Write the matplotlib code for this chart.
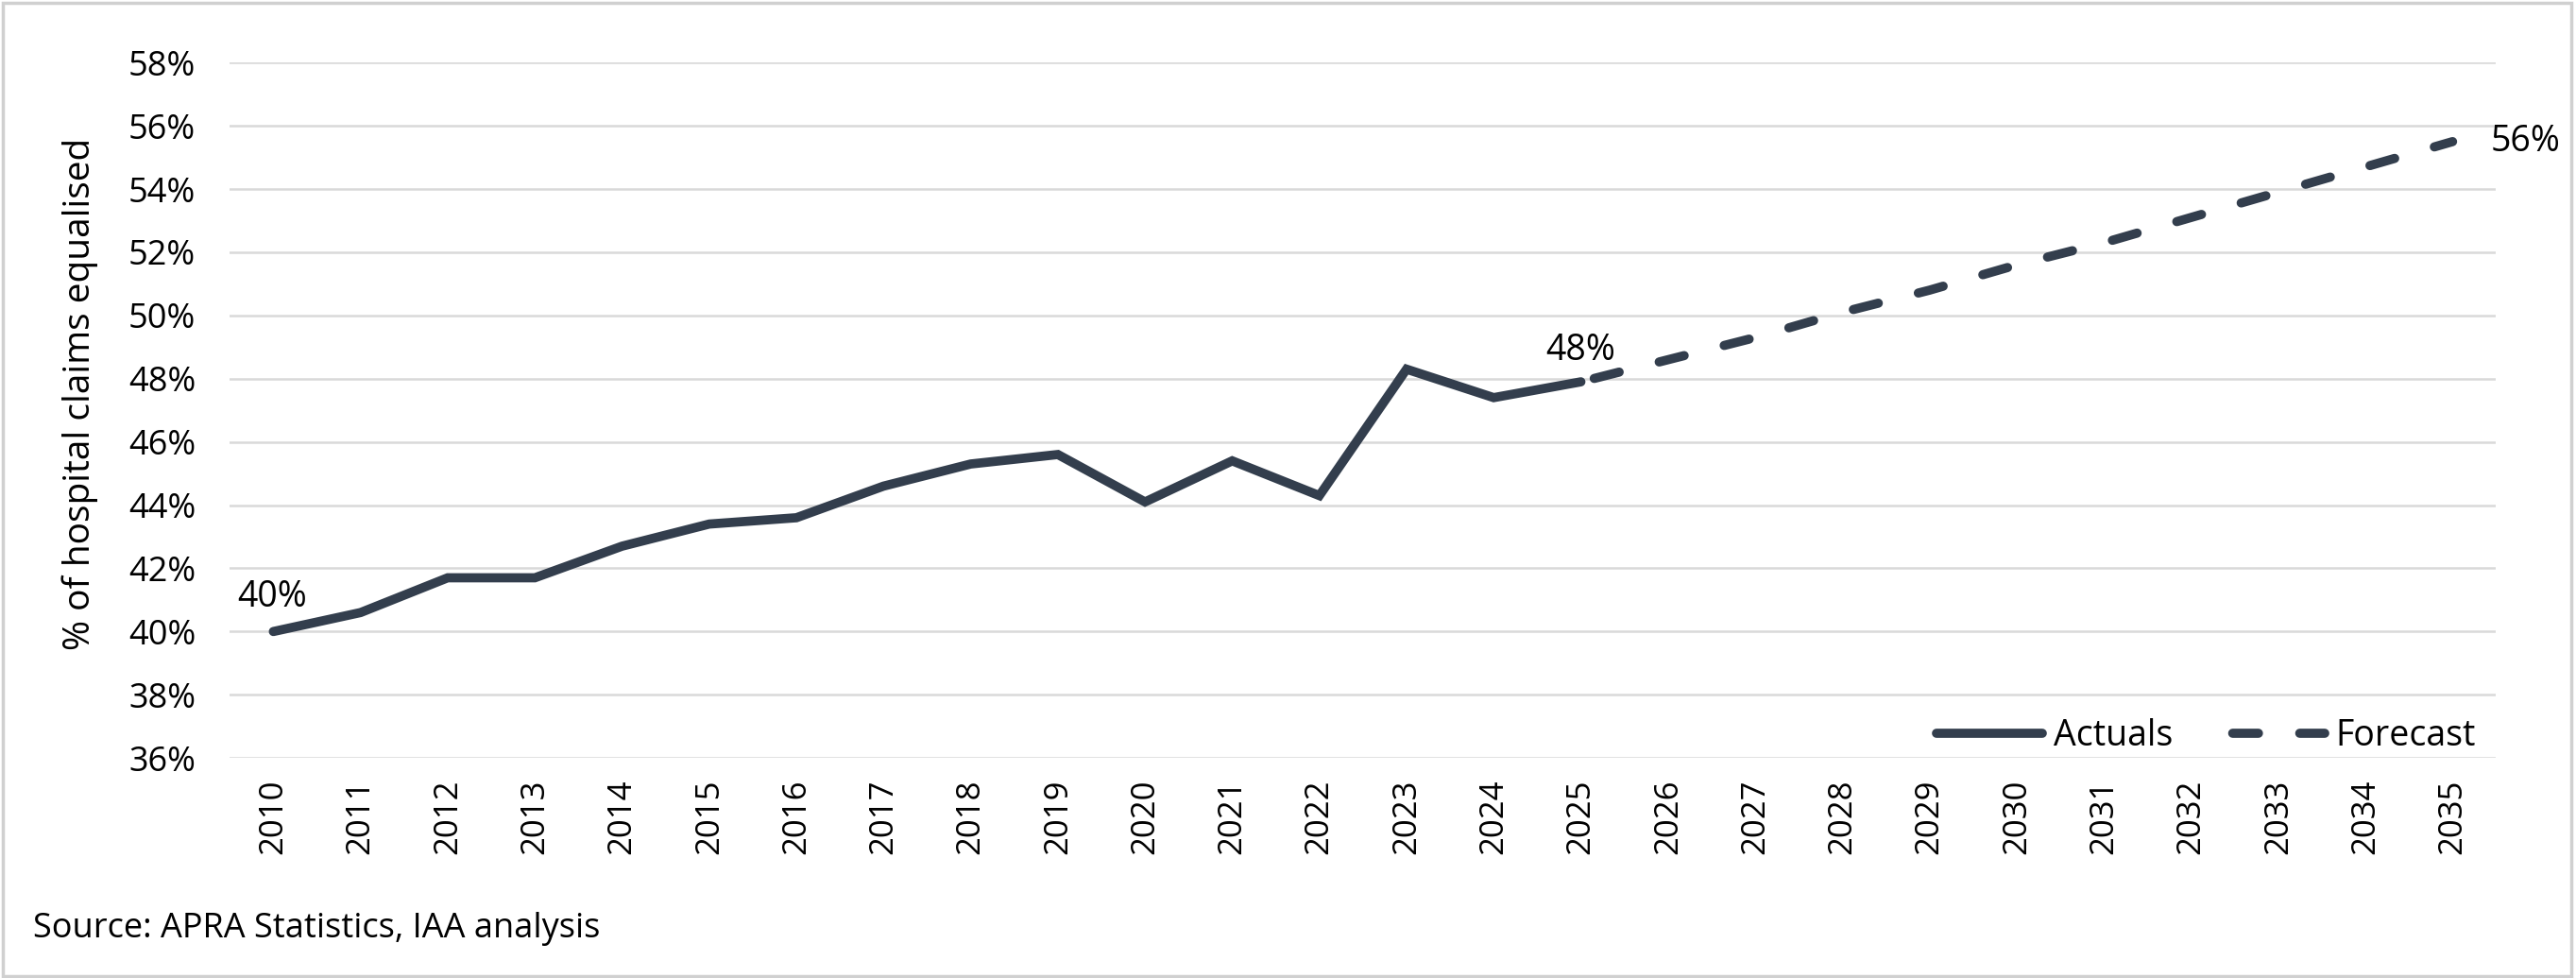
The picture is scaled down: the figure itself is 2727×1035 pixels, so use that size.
import matplotlib
matplotlib.use("Agg")
import matplotlib.pyplot as plt
from matplotlib.patches import Rectangle

plt.rcParams['font.family'] = ['Open Sans', 'DejaVu Sans']

# Data
years = list(range(2010, 2036))
actual_years = list(range(2010, 2026))
actual_pct = [40.0, 40.6, 41.7, 41.7, 42.7, 43.4, 43.6, 44.6, 45.3, 45.6,
              44.1, 45.4, 44.3, 48.3, 47.4, 47.9]
forecast_years = list(range(2025, 2036))
forecast_pct = [47.9, 48.6, 49.3, 50.1, 50.8, 51.6, 52.3, 53.1, 53.9, 54.7, 55.5]
y_ticks = list(range(36, 60, 2))

line_col = '#333e4d'
grid_col = '#d9d9d9'

fig = plt.figure(figsize=(27.27, 10.35), dpi=100)
ax = fig.add_axes([0.0892, 0.225, 0.8798, 0.711])

ax.plot(actual_years, actual_pct, color=line_col, lw=7,
        solid_capstyle='round', solid_joinstyle='miter', label='Actuals')
ax.plot(forecast_years, forecast_pct, color=line_col, lw=7,
        linestyle=(-1.5, (2.8, 4.5)), dash_capstyle='round', label='Forecast')

ax.set_xlim(2009.5, 2035.5)
ax.set_ylim(36, 58)
ax.set_yticks(y_ticks)
ax.set_yticklabels([f"{t}%" for t in y_ticks])
ax.set_xticks(years)
ax.set_xticklabels([str(y) for y in years], rotation=90)
ax.tick_params(axis='y', length=0, labelsize=26, pad=26)
ax.tick_params(axis='x', length=0, labelsize=25, pad=16)
ax.yaxis.grid(True, color=grid_col, lw=1.8)
ax.set_axisbelow(True)
for s in ax.spines.values():
    s.set_visible(False)

ax.set_ylabel('% of hospital claims equalised', fontsize=28, labelpad=23)
ax.yaxis.label.set_y(0.524)

# point labels
ax.annotate('40%', (actual_years[0], actual_pct[0]), xytext=(-1, 26),
            textcoords='offset points', ha='center', va='center', fontsize=27)
ax.annotate('48%', (actual_years[-1], actual_pct[-1]), xytext=(0, 24),
            textcoords='offset points', ha='center', va='center', fontsize=27)
ax.annotate('56%', (forecast_years[-1], forecast_pct[-1]), xytext=(29, 0),
            textcoords='offset points', ha='left', va='center', fontsize=27)

leg = ax.legend(loc='lower right', bbox_to_anchor=(1.005, -0.04), ncol=2,
                frameon=False, fontsize=27, handlelength=3.0, handletextpad=0.3,
                columnspacing=1.3)

fig.text(0.013, 0.05, 'Source: APRA Statistics, IAA analysis', fontsize=26,
         ha='left', va='center')

# light frame around the whole figure
fig.patches.append(Rectangle((0.001, 0.002), 0.997, 0.995, transform=fig.transFigure,
                             fill=False, edgecolor='#d0d0d0', lw=2.5))

fig.savefig('out.png', dpi=100, facecolor='white')
